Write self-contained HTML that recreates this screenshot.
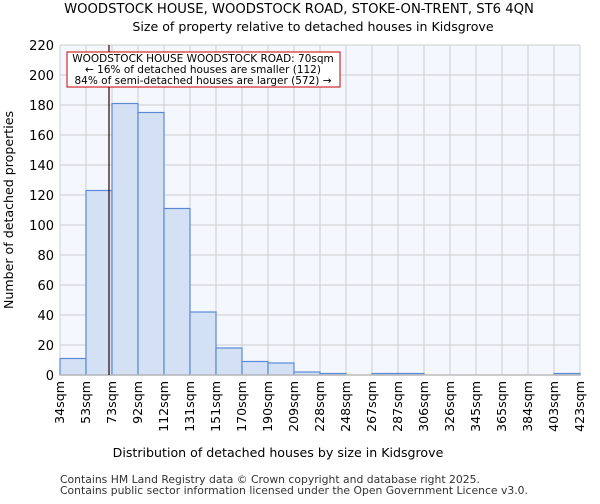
<!DOCTYPE html>
<html><head><meta charset="utf-8"><style>
body{margin:0;background:#fff;font-family:"DejaVu Sans","Liberation Sans",sans-serif;}
</style></head><body>
<svg width="600" height="500" xmlns="http://www.w3.org/2000/svg" font-family="DejaVu Sans, Liberation Sans, sans-serif">
<text x="299" y="13" text-anchor="middle" font-size="13.2">WOODSTOCK HOUSE, WOODSTOCK ROAD, STOKE-ON-TRENT, ST6 4QN</text>
<text x="313" y="31" text-anchor="middle" font-size="12.6">Size of property relative to detached houses in Kidsgrove</text>
<rect x="60" y="45" width="520" height="330" fill="#f4f7fe"/>
<g id="grid"></g>
<g id="bars"></g>
<g id="axes"></g>
<text x="278" y="457" text-anchor="middle" font-size="12.6">Distribution of detached houses by size in Kidsgrove</text>
<text transform="translate(13,210) rotate(-90)" text-anchor="middle" font-size="12.6">Number of detached properties</text>
<line x1="109" y1="45" x2="109" y2="375" stroke="#300" stroke-width="1.2"/>
<g>
<rect x="67" y="52" width="273" height="35" fill="#fff" stroke="#c00" stroke-width="1"/>
<text x="203" y="62" text-anchor="middle" font-size="10.5">WOODSTOCK HOUSE WOODSTOCK ROAD: 70sqm</text>
<text x="203" y="73" text-anchor="middle" font-size="10.5">← 16% of detached houses are smaller (112)</text>
<text x="203" y="84" text-anchor="middle" font-size="10.5">84% of semi-detached houses are larger (572) →</text>
</g>
<text x="60" y="483" font-size="10.8" fill="#333">Contains HM Land Registry data © Crown copyright and database right 2025.</text>
<text x="60" y="494" font-size="10.8" fill="#333">Contains public sector information licensed under the Open Government Licence v3.0.</text>
</svg>
<script>
const categories=["34sqm","53sqm","73sqm","92sqm","112sqm","131sqm","151sqm","170sqm","190sqm","209sqm","228sqm","248sqm","267sqm","287sqm","306sqm","326sqm","345sqm","365sqm","384sqm","403sqm","423sqm"];
const counts=[11,123,181,175,111,42,18,9,8,2,1,0,1,1,0,0,0,0,0,1];
const yTicks=[0,20,40,60,80,100,120,140,160,180,200,220];
const NS="http://www.w3.org/2000/svg";
const x0=60,x1=580,y0=375,y1=45,yMax=220;
const bw=(x1-x0)/counts.length;
const xs=i=>x0+i*bw;
const ys=v=>y0-(v/yMax)*(y0-y1);
function mk(t,a,p){const e=document.createElementNS(NS,t);for(const k in a)e.setAttribute(k,a[k]);p.appendChild(e);return e;}
const grid=document.getElementById('grid'),bars=document.getElementById('bars'),axes=document.getElementById('axes');
yTicks.forEach(v=>{
 const l=mk('line',{x1:x0,x2:x1,y1:ys(v),y2:ys(v),stroke:'#ccc','stroke-width':1},grid);
 
 
 const t=mk('text',{x:x0-6,y:ys(v)+5,'text-anchor':'end','font-size':13},axes);
 t.textContent=v;
 
 
});
categories.forEach((c,i)=>{
 const x=xs(i);
 const l=mk('line',{x1:x,x2:x,y1:y1,y2:y0,stroke:'#ccc','stroke-width':1},grid);
 
 
 const t=mk('text',{transform:`translate(${x+4},${y0+6}) rotate(-90)`,'text-anchor':'end','font-size':12.6},axes);
 t.textContent=c;
 
 
});
counts.forEach((v,i)=>{
 if(v<=0)return;
 const r=mk('rect',{x:xs(i),y:ys(v),width:bw,height:y0-ys(v),fill:'#d4e1f5',stroke:'#5a8ad4','stroke-width':1.2},bars);
 
 
});
const ax=mk('line',{x1:x0,x2:x1,y1:y0,y2:y0,stroke:'#bbb','stroke-width':1.5},axes);


</script>
</body></html>
